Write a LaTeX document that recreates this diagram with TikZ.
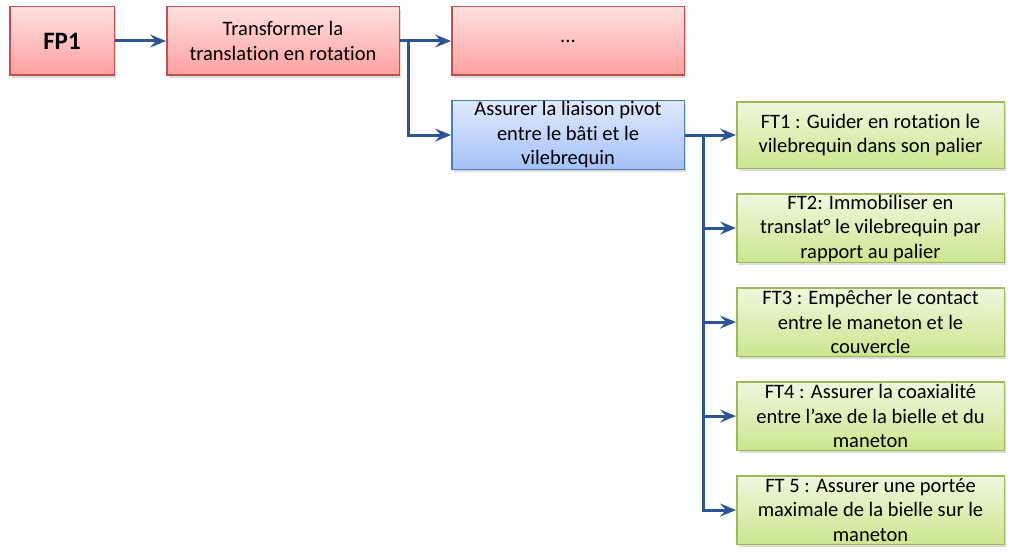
\documentclass[tikz,border=0pt]{standalone}
\usepackage{fontspec}
\setmainfont{Carlito}[Ligatures=CommonOff]
\usetikzlibrary{arrows.meta, positioning, shadows}

\definecolor{redline}{HTML}{C0504D}
\definecolor{redtop}{HTML}{FFE1E1}
\definecolor{redbot}{HTML}{FF9F9F}
\definecolor{blueline}{HTML}{4A7EBB}
\definecolor{bluetop}{HTML}{DFE9FC}
\definecolor{bluebot}{HTML}{A5C1F7}
\definecolor{greenline}{HTML}{9BBB59}
\definecolor{greentop}{HTML}{EEF8DE}
\definecolor{greenbot}{HTML}{CBE68E}
\definecolor{arrowblue}{HTML}{2B5597}

\begin{document}
\begin{tikzpicture}[
  x=1pt, y=1pt,
  node distance=24pt and 51pt,
  box/.style={draw, line width=1.5pt, minimum height=68.5pt, align=center, inner sep=1pt,
    font=\fontsize{20.5}{24.5}\selectfont,
    drop shadow={shadow xshift=2pt, shadow yshift=-3pt, opacity=0.28}},
  fp/.style={box, draw=redline, top color=redtop, bottom color=redbot},
  pivot/.style={box, draw=blueline, top color=bluetop, bottom color=bluebot, minimum width=232.5pt},
  ft/.style={box, draw=greenline, top color=greentop, bottom color=greenbot, minimum width=267.5pt},
  arrow/.style={-{Stealth[length=16pt, width=13pt, inset=6pt]}, line width=3pt, draw=arrowblue}
]
  \useasboundingbox (0,0) rectangle (1015,-559);

  \node[fp, minimum width=104.5pt, font=\fontsize{25}{28}\selectfont\bfseries] (fp1) at (62,-41) {FP1};
  \node[fp, minimum width=232.5pt, right=of fp1] (trans) {Transformer la\\translation en rotation};
  \node[fp, minimum width=232.5pt, right=of trans] (dots) {...};
  \node[pivot, below=of dots] (liaison) {Assurer la liaison pivot\\entre le bâti et le\\vilebrequin};

  \node[ft, minimum height=66.5pt, right=of liaison] (ft1) {FT1 : Guider en rotation le\\vilebrequin dans son palier};
  \node[ft, below=of ft1] (ft2) {FT2: Immobiliser en\\translat° le vilebrequin par\\rapport au palier};
  \node[ft, below=of ft2] (ft3) {FT3 : Empêcher le contact\\entre le maneton et le\\couvercle};
  \node[ft, below=of ft3] (ft4) {FT4 : Assurer la coaxialité\\entre l’axe de la bielle et du\\maneton};
  \node[ft, below=of ft4] (ft5) {FT 5 : Assurer une portée\\maximale de la bielle sur le\\maneton};

  \draw[arrow] (fp1) -- (trans);
  \draw[arrow] (trans) -- (dots);
  \draw[arrow] (trans.east) -- ++(8,0) |- (liaison.west);
  \foreach \i in {1,...,5}
    \draw[arrow] (liaison.east) -- ++(18,0) |- (ft\i.west);
\end{tikzpicture}
\end{document}
